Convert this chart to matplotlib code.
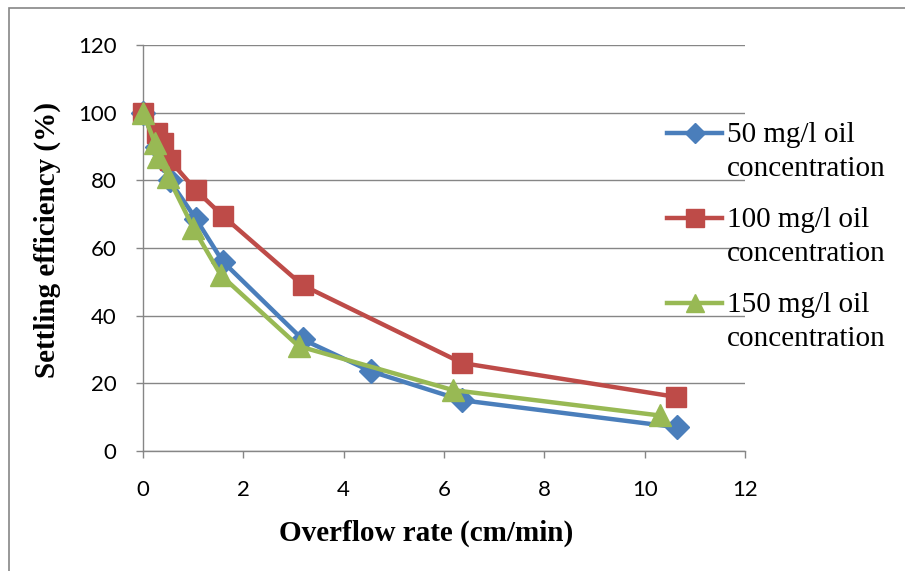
import matplotlib
matplotlib.use("Agg")
import numpy as np
import matplotlib.pyplot as plt
from matplotlib.patches import Rectangle
from matplotlib.legend_handler import HandlerLine2D

# Overflow rate (cm/min) and settling efficiency (%) for each oil concentration
rate_50 = [0, 0.27, 0.40, 0.53, 1.06, 1.59, 3.18, 4.55, 6.36, 10.65]
eff_50 = [100, 90, 86, 80, 68.5, 56, 33, 23.5, 15, 7]

rate_100 = [0, 0.27, 0.40, 0.53, 1.06, 1.59, 3.18, 6.36, 10.62]
eff_100 = [100, 94, 91, 86, 77, 69.5, 49, 26, 16]

rate_150 = [0, 0.24, 0.30, 0.50, 1.00, 1.55, 3.10, 6.18, 10.30]
eff_150 = [100, 91, 87, 81, 66, 52, 31, 18, 10.5]

labels = ["50 mg/l oil\nconcentration",
          "100 mg/l oil\nconcentration",
          "150 mg/l oil\nconcentration"]

x_ticks = [0, 2, 4, 6, 8, 10, 12]
y_ticks = [0, 20, 40, 60, 80, 100, 120]

BLUE = "#4A7EBB"
RED = "#BE4B48"
GREEN = "#98B954"
GRID = "#868686"


class FirstLineHandler(HandlerLine2D):
    """Legend line handle aligned with the first line of a two-line label."""

    def __init__(self, raise_pts, **kw):
        super().__init__(**kw)
        self.raise_pts = raise_pts

    def create_artists(self, legend, orig_handle, xdescent, ydescent,
                       width, height, fontsize, trans):
        artists = super().create_artists(legend, orig_handle, xdescent,
                                         ydescent, width, height,
                                         fontsize, trans)
        for art in artists:
            art.set_ydata(np.asarray(art.get_ydata(), float) + self.raise_pts)
        return artists


W, H = 905, 571
fig = plt.figure(figsize=(W / 100, H / 100), dpi=100)

# outer chart frame
fig.patches.append(Rectangle((9 / W, -0.05), 1.2, 1 - 8 / H + 0.05,
                             transform=fig.transFigure, fill=False,
                             edgecolor=GRID, linewidth=1.2))

ax = fig.add_axes([143 / W, 1 - 451 / H, (745 - 143) / W, (451 - 45) / H])

l50, = ax.plot(rate_50, eff_50, color=BLUE, lw=3.2, marker="D", ms=12.5,
               label=labels[0], zorder=3)
l100, = ax.plot(rate_100, eff_100, color=RED, lw=3.2, marker="s", ms=14.5,
                label=labels[1], zorder=3)
l150, = ax.plot(rate_150, eff_150, color=GREEN, lw=3.2, marker="^", ms=16,
                label=labels[2], zorder=4)

ax.set_xlim(0, 12)
ax.set_ylim(0, 120)
ax.set_xticks(x_ticks)
ax.set_yticks(y_ticks)
for line in ax.lines:
    line.set_clip_on(False)

ax.yaxis.grid(True, color=GRID, linewidth=1.0)
ax.set_axisbelow(True)
for side in ("top", "right"):
    ax.spines[side].set_visible(False)
for side in ("left", "bottom"):
    ax.spines[side].set_color(GRID)
    ax.spines[side].set_linewidth(1.0)

ax.tick_params(axis="both", direction="out", length=5, width=1,
               color=GRID, labelsize=16)
ax.tick_params(axis="y", pad=14)
ax.tick_params(axis="x", pad=16)
for lab in ax.get_xticklabels() + ax.get_yticklabels():
    lab.set_fontfamily("Lato")

ax.set_xlabel("Overflow rate (cm/min)", family="Liberation Serif",
              weight="bold", fontsize=21)
ax.xaxis.set_label_coords(0.47, -0.17)
ax.set_ylabel("Settling efficiency (%)", family="Liberation Serif",
              weight="bold", fontsize=21)
ax.yaxis.set_label_coords(-0.136, 0.52)

handler = FirstLineHandler(13.5)
leg = ax.legend(loc="upper left", bbox_to_anchor=(667 / W, 1 - 122 / H),
                bbox_transform=fig.transFigure, frameon=False,
                prop={"family": "Liberation Serif", "size": 21},
                handlelength=1.9, handletextpad=0.15,
                labelspacing=0.85, borderpad=0, borderaxespad=0,
                markerscale=0.85,
                handler_map={l50: handler, l100: handler, l150: handler})
for txt in leg.get_texts():
    txt.set_linespacing(1.4)

fig.savefig("out.png", dpi=100)
